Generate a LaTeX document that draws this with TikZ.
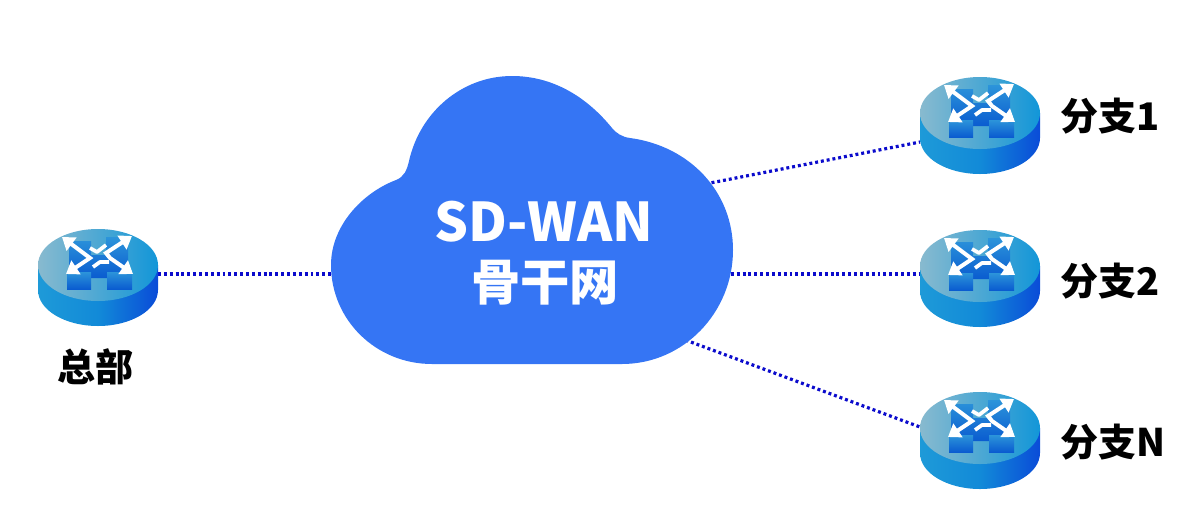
\documentclass[tikz,border=0pt]{standalone}
\usepackage{fontspec}
\setmainfont{Noto Sans CJK SC}
\usetikzlibrary{arrows.meta}
\definecolor{cloudblue}{HTML}{3575F4}
\definecolor{linkblue}{HTML}{0B0BCC}
\definecolor{sideL}{HTML}{1E9AD8}
\definecolor{sideM}{HTML}{128AD8}
\definecolor{sideR}{HTML}{0A4CD8}
\definecolor{topL}{HTML}{88BACF}
\definecolor{topR}{HTML}{1296D8}
\definecolor{blockT}{HTML}{2C94DA}
\definecolor{blockB}{HTML}{0A5CD0}
\tikzset{
  x=0.75pt, y=-0.75pt,
  link/.style={draw=linkblue, line width=2.4pt, dash pattern=on 2.2pt off 2.2pt},
  cloudtext/.style={text=white, inner sep=0pt, anchor=center},
  sitelabel/.style={text=black, font=\bfseries\fontsize{28.5}{32}\selectfont, inner sep=0pt},
  routerbox/.style={minimum width=90pt, minimum height=0pt, inner sep=0pt, outer sep=0pt},
  iconarrow/.style={draw=white, line width=3pt, line join=miter, {Triangle[width=12pt,length=9pt,fill=white]}-{Triangle[width=12pt,length=9pt,fill=white]}},
  iconline/.style={draw=white, line width=2.8pt, line join=round},
  router/.pic={
    \path[left color=sideL, right color=sideR, middle color=sideM] (-60,0) -- (-60,25)
      .. controls (-60,45) and (-33,61) .. (0,61)
      .. controls (33,61) and (60,45) .. (60,25) -- (60,0) -- cycle;
    \path[left color=topL, right color=topR] (0,0) ellipse [x radius=45pt, y radius=27pt];
    \path[top color=blockT, bottom color=blockB] (-29,-24) -- (-7,-24) -- (-7,-10) -- (8,-10) -- (8,-28) -- (30,-28) -- (30,8) -- (9,8) -- (9,13) -- (-7,13) -- (-7,8) -- (-29,8) -- cycle;
    \path[top color=blockT, bottom color=blockB] (-31,7) rectangle (-7,24);
    \path[top color=blockT, bottom color=blockB] (9,7) rectangle (34,24);
    \draw[iconarrow] (-36,-28) -- (-8,-7) -- (-32,9);
    \draw[iconarrow] (34,-29) -- (8,-12) -- (12,-7) -- (35,9);
    \draw[iconline] (-8,-17) -- (-1,-13) -- (8,-20);
    \draw[iconline] (-5,2) -- (2,-3) -- (11,-3);
  }
}
\begin{document}
\begin{tikzpicture}
\useasboundingbox (0,0) rectangle (1200,515);
\node[routerbox] (r0) at (98,274) {};
\node[routerbox] (r1) at (980,142) {};
\node[routerbox] (r2) at (980,274) {};
\node[routerbox] (r3) at (980,427) {};
\coordinate (cw) at (340,274);
\coordinate (c1) at (700,185);
\coordinate (c2) at (725,274);
\coordinate (c3) at (680,338);
\draw[link] (r0.east) -- (cw);
\draw[link] (c1) -- (r1.west);
\draw[link] (c2) -- (r2.west);
\draw[link] (c3) -- (r3.west);
\fill[cloudblue] (331,265)
  .. controls (331,226) and (362,193) .. (396,180)
  .. controls (404,177) and (407,170) .. (409,161)
  .. controls (420,112) and (462,76) .. (512,76)
  .. controls (552,76) and (586,96) .. (612,128)
  .. controls (616,133) and (622,137) .. (630,138)
  .. controls (690,146) and (733,192) .. (733,250)
  .. controls (733,312) and (684,364) .. (622,364)
  -- (432,364)
  .. controls (376,364) and (331,320) .. (331,265) -- cycle;
\node[cloudtext, font=\bfseries\fontsize{40}{44}\selectfont] (title) at (544,222) {SD-WAN};
\node[cloudtext, font=\bfseries\fontsize{37}{40}\selectfont] (sub) at (545,283) {骨干网};
\pic at (98,265) {router};
\pic at (980,113) {router};
\pic at (980,266) {router};
\pic at (980,428) {router};
\node[sitelabel] (l0) at (95,367) {总部};
\node[sitelabel, anchor=west] (l1) at (1060,116) {分支1};
\node[sitelabel, anchor=west] (l2) at (1060,281) {分支2};
\node[sitelabel, anchor=west] (l3) at (1060,442) {分支N};
\end{tikzpicture}
\end{document}
